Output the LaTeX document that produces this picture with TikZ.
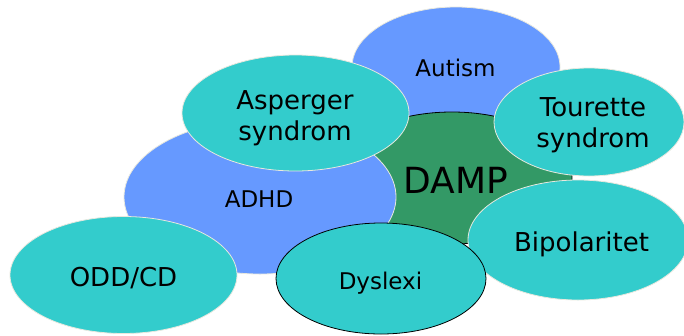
\documentclass[tikz,border=0pt]{standalone}
\usepackage{fontspec}
\setmainfont{DejaVu Sans}
\usetikzlibrary{shapes.geometric}
\definecolor{blueF}{RGB}{102,153,255}
\definecolor{tealF}{RGB}{51,204,204}
\definecolor{greenF}{RGB}{51,153,102}
\definecolor{rimC}{RGB}{232,232,222}
\begin{document}
\begin{tikzpicture}[x=1pt,y=-1pt,
  blob/.style={ellipse, inner sep=0pt, line width=0.8pt, draw=rimC},
  blueblob/.style={blob, fill=blueF},
  tealblob/.style={blob, fill=tealF},
  greenblob/.style={blob, fill=greenF, draw=black},
  lbl/.style={inner sep=0pt, anchor=base, text=black, align=center},
  small/.style={font=\fontsize{23}{28}\selectfont},
  mid/.style={font=\fontsize{26}{31.5}\selectfont},
  big/.style={font=\fontsize{36}{42}\selectfont}]
\useasboundingbox (0,0) rectangle (684,335);
\node[blueblob, minimum width=208pt, minimum height=120pt] (autism) at (456,67) {};
\node[greenblob, minimum width=240pt, minimum height=132pt] (damp) at (452,178) {};
\node[blueblob, minimum width=272pt, minimum height=154pt] (adhd) at (260,197) {};
\node[tealblob, minimum width=227pt, minimum height=116pt] (asperger) at (295.5,113) {};
\node[tealblob, minimum width=190pt, minimum height=108pt] (tourette) at (589,122) {};
\node[tealblob, minimum width=220pt, minimum height=120pt] (bipolar) at (578,240) {};
\node[tealblob, minimum width=227pt, minimum height=117pt] (odd) at (123.5,275) {};
\node[tealblob, draw=black, minimum width=210pt, minimum height=111pt] (dyslexi) at (381,278.5) {};
\node[lbl, small] (tautism) at (455.5,76.7) {Autism};
\node[lbl, big] (tdamp) at (456,193) {DAMP};
\node[lbl, small] (tadhd) at (259,207) {ADHD};
\node[lbl, mid] (tasperger) at (295,140.5) {Asperger\\syndrom};
\node[lbl, mid] (ttourette) at (593,147.5) {Tourette\\syndrom};
\node[lbl, mid] (tbipolar) at (581.5,251.3) {Bipolaritet};
\node[lbl, mid] (todd) at (123.5,286.3) {ODD/CD};
\node[lbl, small] (tdyslexi) at (380.5,289) {Dyslexi};
\end{tikzpicture}
\end{document}
